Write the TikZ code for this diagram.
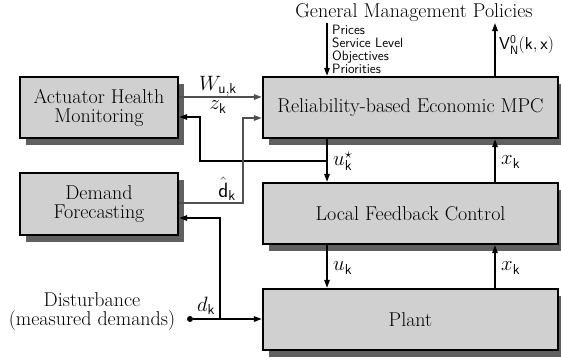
\documentclass[tikz,border=0pt]{standalone}
\usetikzlibrary{arrows.meta,shadows}
\definecolor{boxfill}{RGB}{208,208,208}
\definecolor{shadowc}{RGB}{96,96,96}
\definecolor{garrc}{RGB}{80,80,80}
\begin{document}
\begin{tikzpicture}[x=1pt,y=-1pt,
  box/.style={draw=black,line width=2.4pt,fill=boxfill,align=center,inner sep=0pt,
    font=\fontsize{20}{19}\selectfont,
    general shadow={fill=shadowc,shadow xshift=6pt,shadow yshift=-7pt}},
  arr/.style={line width=1.6pt,-{Triangle[length=8pt,width=5.5pt]}},
  garr/.style={arr,draw=garrc},
  lbl/.style={inner sep=0pt,font=\fontsize{20}{19}\selectfont},
  sflbl/.style={inner sep=0pt,anchor=north west,align=left,font=\sffamily\fontsize{13.5}{13}\selectfont}]
\useasboundingbox (0,0) rectangle (561,359);
% boxes
\node[box,minimum width=158pt,minimum height=61pt] (ahm) at (99,107.5) {Actuator Health\\Monitoring};
\node[box,minimum width=158pt,minimum height=62pt] (df) at (99,204) {Demand\\Forecasting};
\node[box,minimum width=295pt,minimum height=61pt] (mpc) at (410.5,107.5) {Reliability-based Economic MPC};
\node[box,minimum width=295pt,minimum height=61pt] (lfc) at (410.5,213.5) {Local Feedback Control};
\node[box,minimum width=295pt,minimum height=61pt] (plant) at (410.5,319.5) {Plant};
% coordinates
\coordinate (ux) at (327,0);
\coordinate (xx) at (495,0);
\coordinate (ptop) at (327,23);
\coordinate (vtop) at (495,23);
\coordinate (wy) at (0,97);
\coordinate (dh1) at (243,203);
\coordinate (dh2) at (243,118);
\coordinate (r1) at (327,161);
\coordinate (r2) at (200,161);
\coordinate (r3) at (200,117);
\coordinate (br) at (220,319);
\coordinate (br2) at (220,218);
% top
\node[lbl] (gmp) at (414,13) {General Management Policies};
\draw[arr] (ptop) -- (ptop |- mpc.north);
\draw[arr] (vtop |- mpc.north) -- (vtop);
\node[sflbl] (pol) at (332,24.5) {Prices\\Service Level\\Objectives\\Priorities};
\node[lbl,anchor=west,font=\fontsize{18.5}{19}\selectfont] (vn) at (499,45) {$\mathsf{V}_{\mathsf{N}}^{\mathsf{0}}\mathsf{(k,x)}$};
% vertical signals
\draw[arr] (ux |- mpc.south) -- (ux |- lfc.north);
\draw[arr] (xx |- lfc.north) -- (xx |- mpc.south);
\draw[arr] (ux |- lfc.south) -- (ux |- plant.north);
\draw[arr] (xx |- plant.north) -- (xx |- lfc.south);
\node[lbl,anchor=west] (us) at (333,161) {$u_{\mathsf{k}}^{\star}$};
\node[lbl,anchor=west] (x1) at (501,162) {$x_{\mathsf{k}}$};
\node[lbl,anchor=west] (uk) at (333,268) {$u_{\mathsf{k}}$};
\node[lbl,anchor=west] (x2) at (501,268) {$x_{\mathsf{k}}$};
% return to AHM
\draw[arr] (r1) -- (r2) -- (r3) -- (r3 -| ahm.east);
% gray signals
\draw[garr] (wy -| ahm.east) -- (wy -| mpc.west);
\draw[garr] (dh1 -| df.east) -- (dh1) -- (dh2) -- (dh2 -| mpc.west);
\node[lbl] (w) at (218,86) {$W_{\mathsf{u,k}}$};
\node[lbl] (z) at (218,107) {$z_{\mathsf{k}}$};
\node[lbl] (dh) at (227,189) {$\hat{\mathsf{d}}_{\mathsf{k}}$};
% disturbance
\node[lbl,align=center] (dist) at (92,312) {Disturbance\\(measured demands)};
\node[circle,fill=black,inner sep=0pt,minimum size=6pt] (dot) at (190,319) {};
\draw[arr] (dot) -- (dot -| plant.west);
\draw[arr] (br) -- (br2) -- (br2 -| df.east);
\node[lbl] (dk) at (206,306) {$d_{\mathsf{k}}$};
\end{tikzpicture}
\end{document}
